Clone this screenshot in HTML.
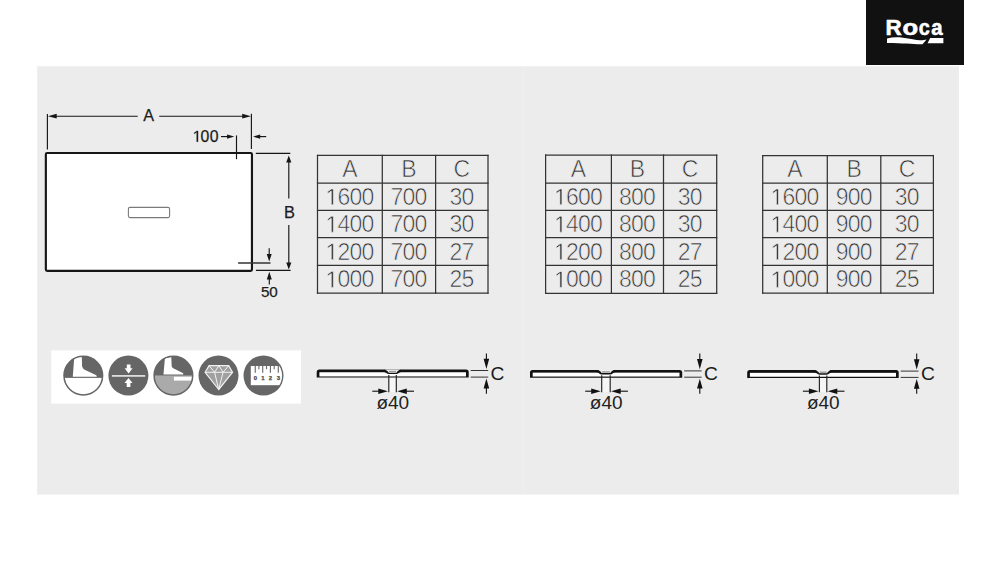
<!DOCTYPE html>
<html><head><meta charset="utf-8"><style>
html,body{margin:0;padding:0;background:#fff;width:1000px;height:563px;overflow:hidden}
svg{display:block;font-family:"Liberation Sans", sans-serif}
</style></head><body>
<svg width="1000" height="563" viewBox="0 0 1000 563">
<rect x="37.2" y="66.3" width="921.8" height="428.2" fill="#ececec"/>
<rect x="521.8" y="66.3" width="2.4" height="428.2" fill="#eeeeee"/>
<rect x="51.3" y="350.3" width="249.7" height="53.3" fill="#fff"/>
<rect x="45.85" y="152.95" width="206.1" height="117.95" rx="1.3" fill="#fff" stroke="#161616" stroke-width="2.15"/><rect x="128.4" y="207.4" width="41.2" height="10.2" rx="1.6" fill="#fff" stroke="#7a7a7a" stroke-width="1.1"/><g stroke="#161616" stroke-width="1.15"><line x1="47.4" y1="114" x2="47.4" y2="149.4"/><line x1="251.4" y1="113.8" x2="251.4" y2="149"/><line x1="54" y1="116.2" x2="137.7" y2="116.2"/><line x1="159.2" y1="116.2" x2="244" y2="116.2"/><line x1="221" y1="136.6" x2="228" y2="136.6"/><line x1="236.5" y1="135.4" x2="236.5" y2="159.2"/><line x1="259" y1="136.6" x2="266.2" y2="136.6"/><line x1="255.8" y1="153.4" x2="290.3" y2="153.4"/><line x1="255.9" y1="270.4" x2="290.6" y2="270.4"/><line x1="288.8" y1="160" x2="288.8" y2="198.5"/><line x1="288.8" y1="225" x2="288.8" y2="263"/><line x1="269.2" y1="248.2" x2="269.2" y2="255"/><line x1="269.3" y1="278" x2="269.3" y2="284.4"/></g><line x1="238.1" y1="263" x2="270.5" y2="263" stroke="#333" stroke-width="1.3"/><path fill="#161616" d="M47.9,116.2 l8.8,-2.4 v4.8z M251,116.2 l-8.8,-2.4 v4.8z M234.3,136.6 l-7.2,-2.2 v4.4z M253,136.6 l7.2,-2.2 v4.4z M288.8,155.6 l-2.6,7 h5.2z M288.8,269.6 l-2.6,-7 h5.2z M269.2,261.4 l-2.5,-7.3 h5z M269.3,271.8 l-2.5,7.7 h5z "/><g fill="#1c1c1c" stroke="#1c1c1c" stroke-width="0.25"><text x="143.2" y="121.2" font-size="16.2">A</text><path transform="translate(192.70,141.80) scale(0.00771,-0.00771)" stroke-width="32.4" d="M515 0V1237L197 1010V1180L530 1409H696V0Z"/><text x="200.6" y="141.8" font-size="15.8" letter-spacing="0.45">00</text><text x="284.1" y="217.7" font-size="16.4">B</text><text x="260.9" y="297" font-size="15.2">50</text></g>
<g stroke="#333" stroke-width="1.25"><line x1="317.5" y1="154.8" x2="317.5" y2="293.8"/><line x1="382.3" y1="154.8" x2="382.3" y2="293.8"/><line x1="435.6" y1="154.8" x2="435.6" y2="293.8"/><line x1="488" y1="154.8" x2="488" y2="293.8"/><line x1="316.9" y1="155.4" x2="488.6" y2="155.4"/><line x1="316.9" y1="183.1" x2="488.6" y2="183.1"/><line x1="316.9" y1="210.4" x2="488.6" y2="210.4"/><line x1="316.9" y1="237.7" x2="488.6" y2="237.7"/><line x1="316.9" y1="265.4" x2="488.6" y2="265.4"/><line x1="316.9" y1="293.2" x2="488.6" y2="293.2"/></g><g fill="#303030" stroke="#ececec" stroke-width="0.68" font-size="23" letter-spacing="-0.8"><text x="349.50" y="177.36" text-anchor="middle">A</text><text x="408.55" y="177.36" text-anchor="middle">B</text><text x="461.40" y="177.36" text-anchor="middle">C</text><path transform="translate(325.52,204.86) scale(0.01123,-0.01123)" stroke-width="60.5" d="M515 0V1237L197 1010V1180L530 1409H696V0Z"/><text x="337.51" y="204.86">600</text><text x="408.55" y="204.86" text-anchor="middle">700</text><text x="461.40" y="204.86" text-anchor="middle">30</text><path transform="translate(325.52,232.16) scale(0.01123,-0.01123)" stroke-width="60.5" d="M515 0V1237L197 1010V1180L530 1409H696V0Z"/><text x="337.51" y="232.16">400</text><text x="408.55" y="232.16" text-anchor="middle">700</text><text x="461.40" y="232.16" text-anchor="middle">30</text><path transform="translate(325.52,259.66) scale(0.01123,-0.01123)" stroke-width="60.5" d="M515 0V1237L197 1010V1180L530 1409H696V0Z"/><text x="337.51" y="259.66">200</text><text x="408.55" y="259.66" text-anchor="middle">700</text><text x="461.40" y="259.66" text-anchor="middle">27</text><path transform="translate(325.52,287.41) scale(0.01123,-0.01123)" stroke-width="60.5" d="M515 0V1237L197 1010V1180L530 1409H696V0Z"/><text x="337.51" y="287.41">000</text><text x="408.55" y="287.41" text-anchor="middle">700</text><text x="461.40" y="287.41" text-anchor="middle">25</text></g>
<g stroke="#333" stroke-width="1.25"><line x1="545.6" y1="154.4" x2="545.6" y2="293.90000000000003"/><line x1="611.4" y1="154.4" x2="611.4" y2="293.90000000000003"/><line x1="663.5" y1="154.4" x2="663.5" y2="293.90000000000003"/><line x1="716.7" y1="154.4" x2="716.7" y2="293.90000000000003"/><line x1="545.0" y1="155" x2="717.3000000000001" y2="155"/><line x1="545.0" y1="183" x2="717.3000000000001" y2="183"/><line x1="545.0" y1="210.4" x2="717.3000000000001" y2="210.4"/><line x1="545.0" y1="237.7" x2="717.3000000000001" y2="237.7"/><line x1="545.0" y1="265.4" x2="717.3000000000001" y2="265.4"/><line x1="545.0" y1="293.3" x2="717.3000000000001" y2="293.3"/></g><g fill="#303030" stroke="#ececec" stroke-width="0.68" font-size="23" letter-spacing="-0.8"><text x="578.10" y="177.11" text-anchor="middle">A</text><text x="637.05" y="177.11" text-anchor="middle">B</text><text x="689.70" y="177.11" text-anchor="middle">C</text><path transform="translate(554.12,204.81) scale(0.01123,-0.01123)" stroke-width="60.5" d="M515 0V1237L197 1010V1180L530 1409H696V0Z"/><text x="566.11" y="204.81">600</text><text x="637.05" y="204.81" text-anchor="middle">800</text><text x="689.70" y="204.81" text-anchor="middle">30</text><path transform="translate(554.12,232.16) scale(0.01123,-0.01123)" stroke-width="60.5" d="M515 0V1237L197 1010V1180L530 1409H696V0Z"/><text x="566.11" y="232.16">400</text><text x="637.05" y="232.16" text-anchor="middle">800</text><text x="689.70" y="232.16" text-anchor="middle">30</text><path transform="translate(554.12,259.66) scale(0.01123,-0.01123)" stroke-width="60.5" d="M515 0V1237L197 1010V1180L530 1409H696V0Z"/><text x="566.11" y="259.66">200</text><text x="637.05" y="259.66" text-anchor="middle">800</text><text x="689.70" y="259.66" text-anchor="middle">27</text><path transform="translate(554.12,287.46) scale(0.01123,-0.01123)" stroke-width="60.5" d="M515 0V1237L197 1010V1180L530 1409H696V0Z"/><text x="566.11" y="287.46">000</text><text x="637.05" y="287.46" text-anchor="middle">800</text><text x="689.70" y="287.46" text-anchor="middle">25</text></g>
<g stroke="#333" stroke-width="1.25"><line x1="762.7" y1="154.9" x2="762.7" y2="293.8"/><line x1="827.3" y1="154.9" x2="827.3" y2="293.8"/><line x1="880.8" y1="154.9" x2="880.8" y2="293.8"/><line x1="933.4" y1="154.9" x2="933.4" y2="293.8"/><line x1="762.1" y1="155.5" x2="934.0" y2="155.5"/><line x1="762.1" y1="183.1" x2="934.0" y2="183.1"/><line x1="762.1" y1="210.4" x2="934.0" y2="210.4"/><line x1="762.1" y1="237.7" x2="934.0" y2="237.7"/><line x1="762.1" y1="265.4" x2="934.0" y2="265.4"/><line x1="762.1" y1="293.2" x2="934.0" y2="293.2"/></g><g fill="#303030" stroke="#ececec" stroke-width="0.68" font-size="23" letter-spacing="-0.8"><text x="794.60" y="177.41" text-anchor="middle">A</text><text x="853.65" y="177.41" text-anchor="middle">B</text><text x="906.70" y="177.41" text-anchor="middle">C</text><path transform="translate(770.62,204.86) scale(0.01123,-0.01123)" stroke-width="60.5" d="M515 0V1237L197 1010V1180L530 1409H696V0Z"/><text x="782.61" y="204.86">600</text><text x="853.65" y="204.86" text-anchor="middle">900</text><text x="906.70" y="204.86" text-anchor="middle">30</text><path transform="translate(770.62,232.16) scale(0.01123,-0.01123)" stroke-width="60.5" d="M515 0V1237L197 1010V1180L530 1409H696V0Z"/><text x="782.61" y="232.16">400</text><text x="853.65" y="232.16" text-anchor="middle">900</text><text x="906.70" y="232.16" text-anchor="middle">30</text><path transform="translate(770.62,259.66) scale(0.01123,-0.01123)" stroke-width="60.5" d="M515 0V1237L197 1010V1180L530 1409H696V0Z"/><text x="782.61" y="259.66">200</text><text x="853.65" y="259.66" text-anchor="middle">900</text><text x="906.70" y="259.66" text-anchor="middle">27</text><path transform="translate(770.62,287.41) scale(0.01123,-0.01123)" stroke-width="60.5" d="M515 0V1237L197 1010V1180L530 1409H696V0Z"/><text x="782.61" y="287.41">000</text><text x="853.65" y="287.41" text-anchor="middle">900</text><text x="906.70" y="287.41" text-anchor="middle">25</text></g>
<rect x="388.8" y="377.6" width="7.5" height="14.399999999999977" fill="#f6f6f6"/><path d="M316.7,377.6 V372.1 Q316.7,369.5 319.3,369.5 H466.09999999999997 Q468.7,369.5 468.7,372.1 V377.6 Z" fill="#111"/><rect x="319.4" y="372.25" width="146.6" height="4.200000000000022" fill="#fff"/><path d="M384.3,369.5 C386.6,369.5 386.3,373.1 388.8,373.1 L396.3,373.1 C398.8,373.1 398.5,369.5 400.8,369.5 Z" fill="#ececec"/><path d="M384.0,370.8 C386.8,370.8 386.6,373.0 389.0,373.0 L396.1,373.0 C398.5,373.0 398.3,370.8 401.1,370.8" fill="none" stroke="#111" stroke-width="2.2"/><rect x="388.1" y="370.4" width="8.9" height="2.3" rx="1" fill="#fff"/><rect x="388.90000000000003" y="370.8" width="7.3" height="1.5" fill="#999"/><g stroke="#222" stroke-width="1.15"><line x1="388.8" y1="374.9" x2="388.8" y2="392.3"/><line x1="396.3" y1="374.9" x2="396.3" y2="392.3"/></g><g stroke="#111" stroke-width="1.1"><line x1="372.3" y1="391.2" x2="380.8" y2="391.2"/><line x1="404.3" y1="391.2" x2="414.0" y2="391.2"/></g><path d="M387.90000000000003,391.2 l-9.6,-2.8 v5.6z M397.2,391.2 l9.6,-2.8 v5.6z" fill="#111"/><text x="392.8" y="409.3" font-size="19" fill="#222" text-anchor="middle">ø40</text><g stroke="#333" stroke-width="1"><line x1="470.7" y1="370.5" x2="488.2" y2="370.5"/><line x1="470.7" y1="377.1" x2="488.2" y2="377.1"/></g><g stroke="#111" stroke-width="1.1"><line x1="486.4" y1="353.6" x2="486.4" y2="360"/><line x1="486.4" y1="386" x2="486.4" y2="393.8"/></g><path d="M486.4,368.9 l-2.8,-10.2 h5.6z M486.4,378.6 l-2.8,9.8 h5.6z" fill="#111"/><text x="490.6" y="379.5" font-size="19.2" fill="#1a1a1a">C</text>
<rect x="601.7" y="377.7" width="8.5" height="14.300000000000011" fill="#f6f6f6"/><path d="M530,377.7 V372.5 Q530,369.9 532.6,369.9 H679.6 Q682.2,369.9 682.2,372.5 V377.7 Z" fill="#111"/><rect x="532.7" y="372.65" width="146.80000000000004" height="3.9000000000000115" fill="#fff"/><path d="M597.2,369.9 C599.5,369.9 599.2,373.5 601.7,373.5 L610.2,373.5 C612.7,373.5 612.4000000000001,369.9 614.7,369.9 Z" fill="#ececec"/><path d="M596.9000000000001,371.2 C599.7,371.2 599.5,373.4 601.9000000000001,373.4 L610.0,373.4 C612.4000000000001,373.4 612.2,371.2 615.0,371.2" fill="none" stroke="#111" stroke-width="2.2"/><rect x="601.0" y="370.79999999999995" width="9.9" height="2.3" rx="1" fill="#fff"/><rect x="601.8000000000001" y="371.2" width="8.3" height="1.5" fill="#999"/><g stroke="#222" stroke-width="1.15"><line x1="601.7" y1="375.29999999999995" x2="601.7" y2="392.3"/><line x1="610.2" y1="375.29999999999995" x2="610.2" y2="392.3"/></g><g stroke="#111" stroke-width="1.1"><line x1="585.2" y1="391.2" x2="593.7" y2="391.2"/><line x1="618.2" y1="391.2" x2="627.9000000000001" y2="391.2"/></g><path d="M600.8000000000001,391.2 l-9.6,-2.8 v5.6z M611.1,391.2 l9.6,-2.8 v5.6z" fill="#111"/><text x="606.2" y="409.3" font-size="19" fill="#222" text-anchor="middle">ø40</text><g stroke="#333" stroke-width="1"><line x1="684.2" y1="370.9" x2="701.5999999999999" y2="370.9"/><line x1="684.2" y1="377.2" x2="701.5999999999999" y2="377.2"/></g><g stroke="#111" stroke-width="1.1"><line x1="699.8" y1="353.6" x2="699.8" y2="360"/><line x1="699.8" y1="386" x2="699.8" y2="393.8"/></g><path d="M699.8,369.29999999999995 l-2.8,-10.2 h5.6z M699.8,378.7 l-2.8,9.8 h5.6z" fill="#111"/><text x="703.9" y="379.5" font-size="19.2" fill="#1a1a1a">C</text>
<rect x="819.4" y="377.9" width="7.399999999999977" height="14.100000000000023" fill="#f6f6f6"/><path d="M747.2,377.9 V372.70000000000005 Q747.2,370.1 749.8000000000001,370.1 H896.1 Q898.7,370.1 898.7,372.70000000000005 V377.9 Z" fill="#111"/><rect x="749.9000000000001" y="372.85" width="146.1" height="3.8999999999999546" fill="#fff"/><path d="M814.9,370.1 C817.1999999999999,370.1 816.9,373.70000000000005 819.4,373.70000000000005 L826.8,373.70000000000005 C829.3,373.70000000000005 829.0,370.1 831.3,370.1 Z" fill="#ececec"/><path d="M814.6,371.40000000000003 C817.4,371.40000000000003 817.1999999999999,373.6 819.6,373.6 L826.5999999999999,373.6 C829.0,373.6 828.8,371.40000000000003 831.5999999999999,371.40000000000003" fill="none" stroke="#111" stroke-width="2.2"/><rect x="818.6999999999999" y="371.0" width="8.799999999999978" height="2.3" rx="1" fill="#fff"/><rect x="819.5" y="371.40000000000003" width="7.199999999999977" height="1.5" fill="#999"/><g stroke="#222" stroke-width="1.15"><line x1="819.4" y1="375.5" x2="819.4" y2="392.3"/><line x1="826.8" y1="375.5" x2="826.8" y2="392.3"/></g><g stroke="#111" stroke-width="1.1"><line x1="802.9" y1="391.2" x2="811.4" y2="391.2"/><line x1="834.8" y1="391.2" x2="844.5" y2="391.2"/></g><path d="M818.5,391.2 l-9.6,-2.8 v5.6z M827.6999999999999,391.2 l9.6,-2.8 v5.6z" fill="#111"/><text x="823.3" y="409.3" font-size="19" fill="#222" text-anchor="middle">ø40</text><g stroke="#333" stroke-width="1"><line x1="900.7" y1="371.1" x2="918.5" y2="371.1"/><line x1="900.7" y1="377.4" x2="918.5" y2="377.4"/></g><g stroke="#111" stroke-width="1.1"><line x1="916.7" y1="353.6" x2="916.7" y2="360"/><line x1="916.7" y1="386" x2="916.7" y2="393.8"/></g><path d="M916.7,369.5 l-2.8,-10.2 h5.6z M916.7,378.9 l-2.8,9.8 h5.6z" fill="#111"/><text x="921.1" y="379.5" font-size="19.2" fill="#1a1a1a">C</text>
<g transform="translate(63.3,355.6)"><clipPath id="c1"><circle cx="20" cy="20" r="19.5"/></clipPath><circle cx="20" cy="20" r="19.5" fill="#fff"/><rect x="0" y="0" width="40" height="22.3" fill="#666" clip-path="url(#c1)"/><path d="M10.9,2.2 L18.5,0.8 L18.8,10.9 Q19.5,13.5 22.4,14.7 L32.6,19.4 Q34,20.3 33.4,21.2 L9.6,21.2 Q9.4,20.5 9.6,20 Z" fill="#fff" clip-path="url(#c1)"/><circle cx="20" cy="20" r="19.3" fill="none" stroke="#666" stroke-width="1.5"/></g><g transform="translate(108.4,355.6)"><circle cx="20" cy="20" r="20" fill="#666"/><rect x="3.5" y="19.4" width="33.3" height="1.8" fill="#ddd"/><path d="M18.4,8.8 h3.7 v3.8 h2.1 l-4,5.3 l-4,-5.3 h2.2z" fill="#fff"/><path d="M20.1,22.4 l4,5.1 h-2.1 v4 h-3.7 v-4 h-2.2z" fill="#fff"/></g><g transform="translate(153.4,355.6)"><clipPath id="c3"><circle cx="20" cy="20" r="19.5"/></clipPath><g clip-path="url(#c3)"><rect x="0" y="0" width="40" height="20.2" fill="#666"/><rect x="0" y="20.2" width="40" height="20" fill="#aaa"/><rect x="20.5" y="21.1" width="20" height="3.9" fill="#fff"/><path d="M11.5,2.6 L17.9,1.3 L18.3,10.9 Q19,12.5 21.3,13.5 L29.4,17.3 Q30.3,18 29.8,18.8 L10.2,18.8 Q10,18 10.2,17.5 Z" fill="#fff"/></g><circle cx="20" cy="20" r="19.3" fill="none" stroke="#666" stroke-width="1.5"/></g><g transform="translate(198.5,355.6)"><circle cx="20" cy="20" r="20" fill="#666"/><path d="M10.6,10 L30.2,10 L34,16.7 L20.2,33.9 L6.6,16.7 Z" fill="#a0a0a0" stroke="#f2f2f2" stroke-width="1.2" stroke-linejoin="round"/><path d="M6.6,16.7 L34,16.7 M10.6,10 L16.1,16.7 L20.4,10 L24.6,16.7 L30.2,10 M16.1,16.7 L20.2,33.9 L24.6,16.7" fill="none" stroke="#f2f2f2" stroke-width="1"/></g><g transform="translate(243.5,355.6)"><clipPath id="c5"><circle cx="20" cy="20" r="18.6"/></clipPath><circle cx="20" cy="20" r="20" fill="#666"/><rect x="7.3" y="10.4" width="33" height="19.2" fill="#fff" clip-path="url(#c5)"/><g stroke="#6a6a6a" stroke-width="1.15"><line x1="11.75" y1="10" x2="11.75" y2="17.2"/><line x1="15.4" y1="10" x2="15.4" y2="13.6"/><line x1="19.2" y1="10" x2="19.2" y2="17.2"/><line x1="23.0" y1="10" x2="23.0" y2="13.6"/><line x1="26.9" y1="10" x2="26.9" y2="17.2"/><line x1="30.7" y1="10" x2="30.7" y2="13.6"/><line x1="34.8" y1="10" x2="34.8" y2="17.2"/></g><g fill="#4a4a4a" stroke="#4a4a4a" stroke-width="0.25" font-size="5.9" font-weight="bold" text-anchor="middle"><text x="11.8" y="24.1">0</text><text x="19.3" y="24.1">1</text><text x="27" y="24.1">2</text><text x="34.9" y="24.1">3</text></g></g>
<rect x="866" y="0" width="98" height="65" fill="#111"/><g font-size="21.3" font-weight="bold" fill="#fff" stroke="#fff" stroke-width="0.55"><text transform="translate(886.98,35.1) scale(1.054,1)" x="-1.43" y="0">R</text><text transform="translate(903.38,35.1) scale(1.202,1)" x="-0.83" y="0">o</text><text transform="translate(919.48,35.1) scale(0.928,1)" x="-0.83" y="0">c</text><text transform="translate(931.88,35.1) scale(0.956,1)" x="-0.62" y="0">a</text></g><path d="M887,38.6 C892,37.2 897,37 903,37.8 C910,38.8 916,40.2 920,40.3 C923,40.3 925,39.8 926.6,39.4 L922.5,44.3 C915,44.6 905,43.2 887,43.1 Z" fill="#fff"/><path d="M930.2,38.1 L943.4,38.1 L943.4,43.3 L927.6,43.3 Z" fill="#fff"/>
</svg>
</body></html>
